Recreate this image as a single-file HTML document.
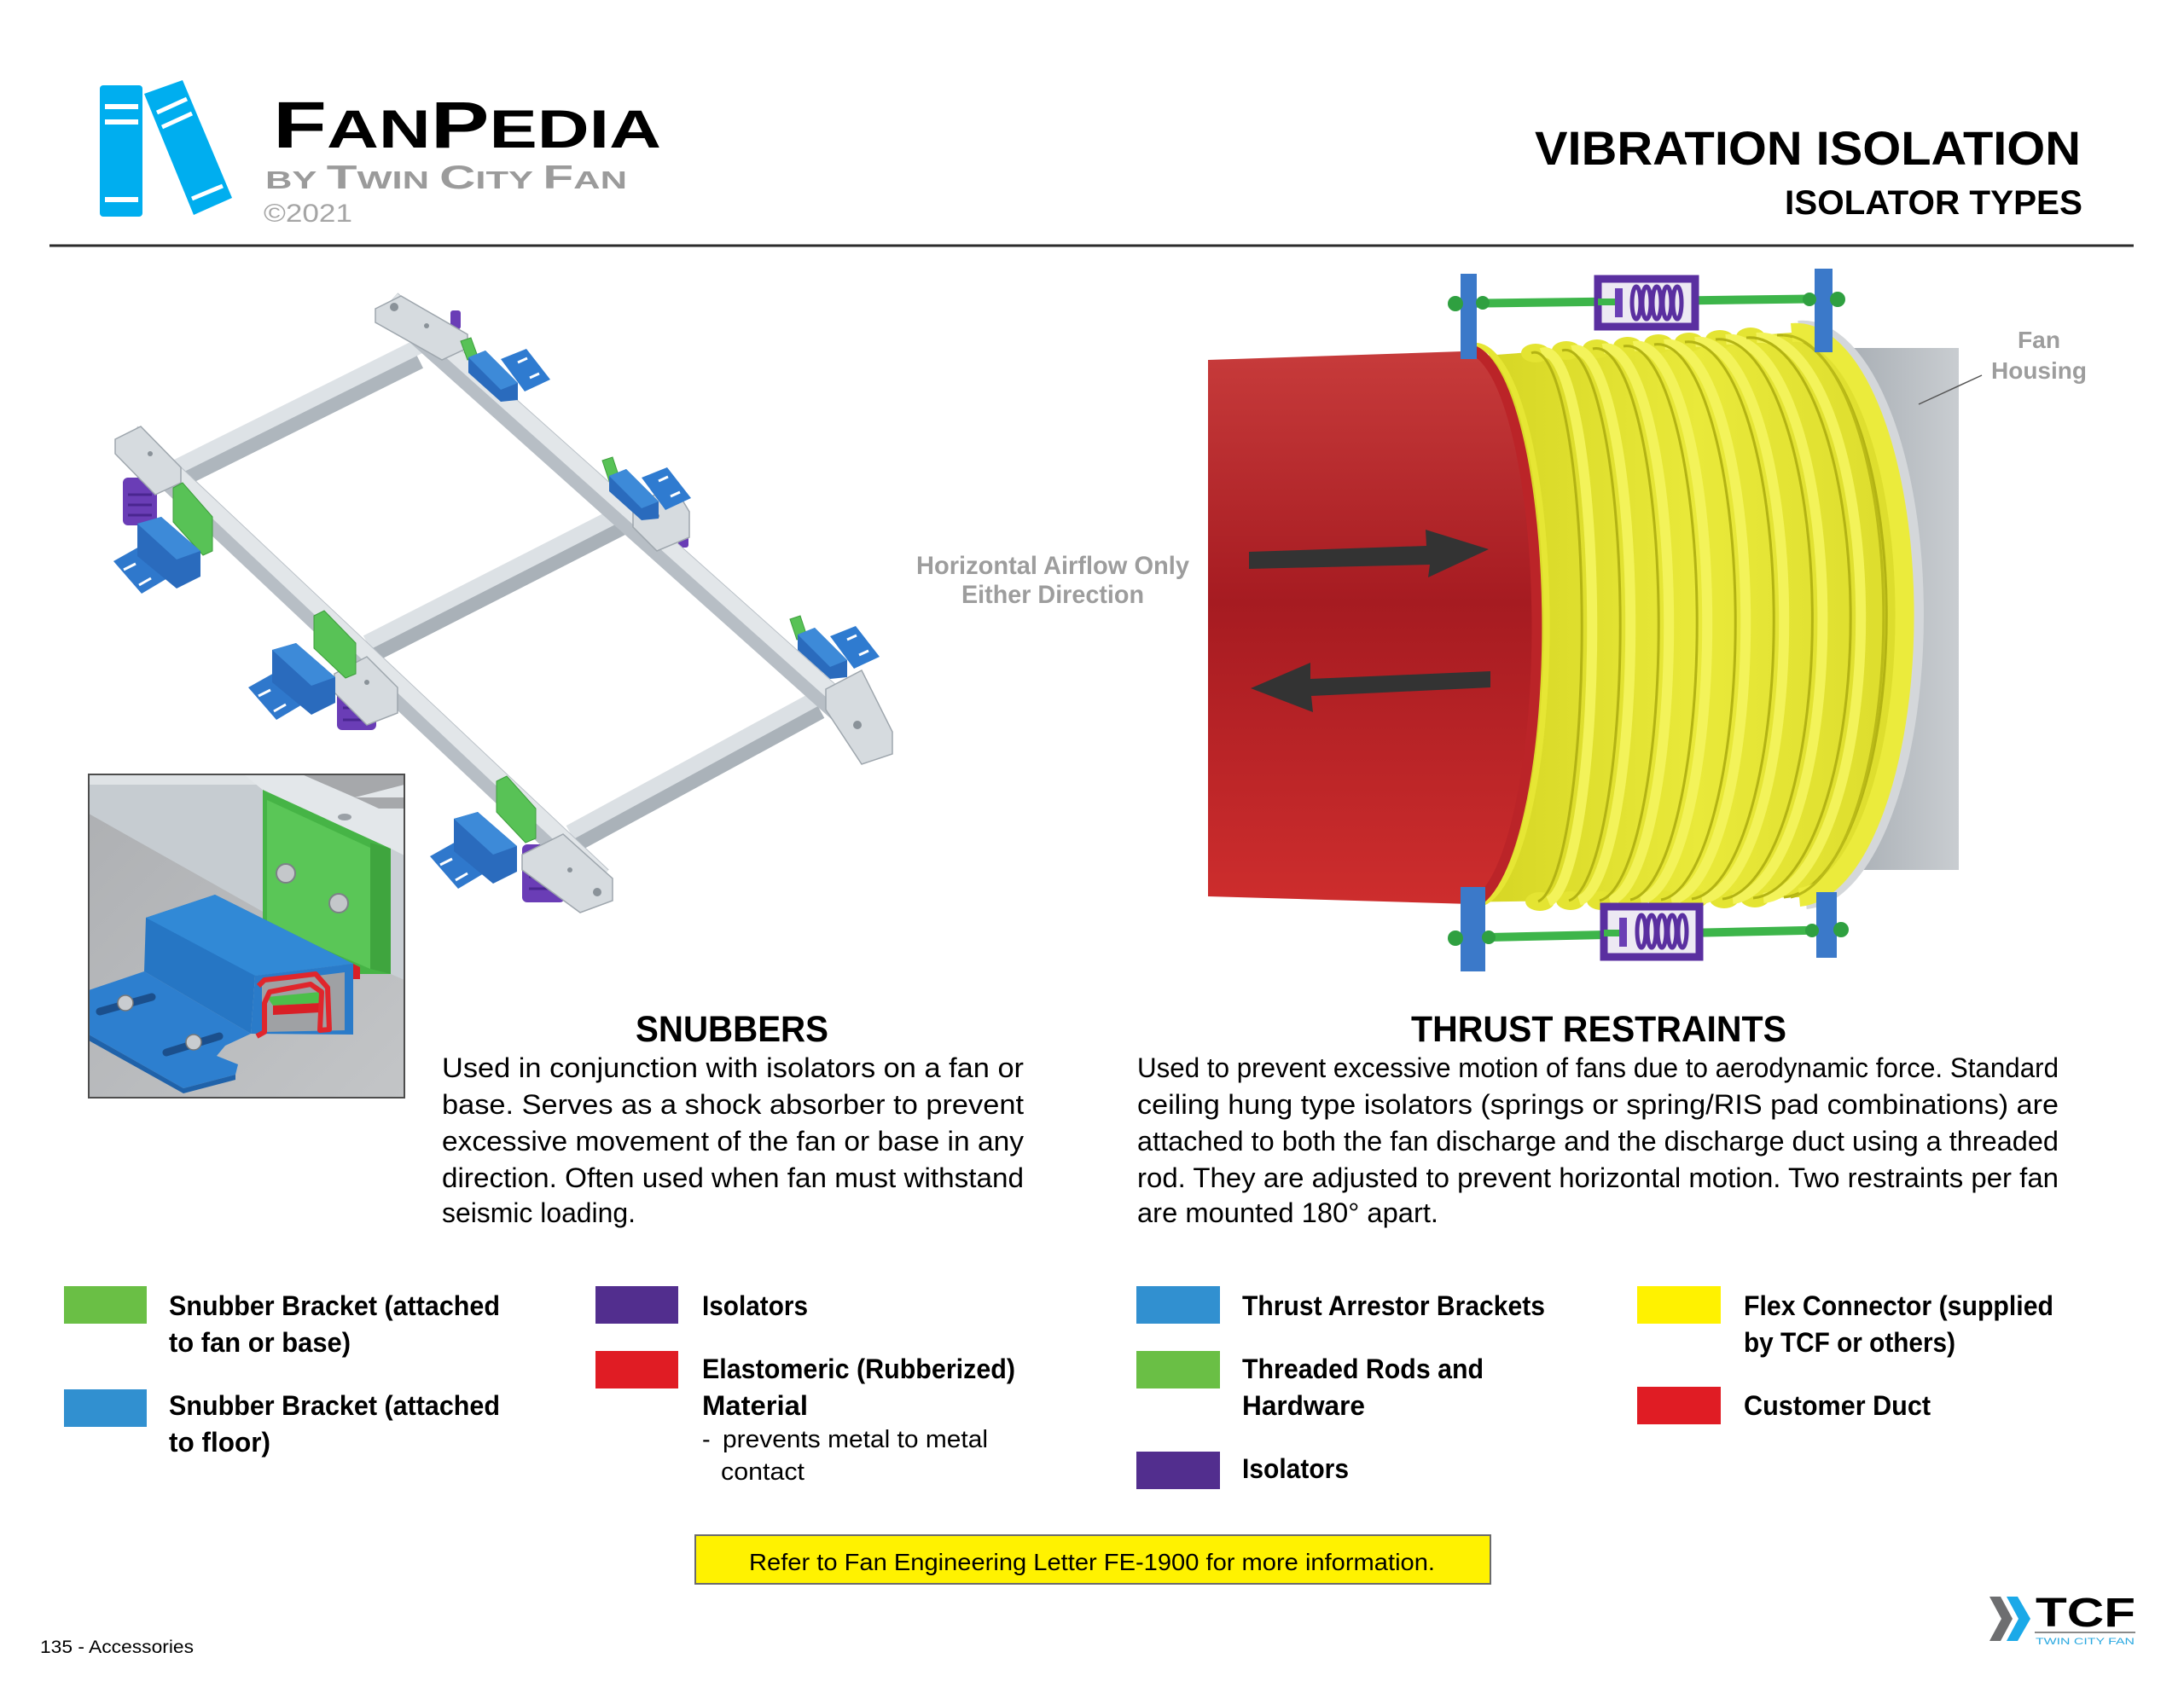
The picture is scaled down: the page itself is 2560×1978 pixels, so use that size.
<!DOCTYPE html>
<html>
<head>
<meta charset="utf-8">
<style>
html,body{margin:0;padding:0;background:#fff;}
svg{display:block;}
text{font-family:"Liberation Sans",sans-serif;}
</style>
</head>
<body>
<svg xmlns="http://www.w3.org/2000/svg" width="2560" height="1978" viewBox="0 0 2560 1978">
<defs>
  <linearGradient id="redG" x1="0" y1="420" x2="0" y2="1056" gradientUnits="userSpaceOnUse">
    <stop offset="0" stop-color="#c63a3a"/>
    <stop offset="0.45" stop-color="#a61b21"/>
    <stop offset="1" stop-color="#cd2d2d"/>
  </linearGradient>
  <linearGradient id="yelG" x1="1740" y1="0" x2="2240" y2="0" gradientUnits="userSpaceOnUse">
    <stop offset="0" stop-color="#d6d624"/>
    <stop offset="0.5" stop-color="#e9e93a"/>
    <stop offset="1" stop-color="#dcdc2c"/>
  </linearGradient>
  <linearGradient id="houseG" x1="2167" y1="0" x2="2296" y2="0" gradientUnits="userSpaceOnUse">
    <stop offset="0" stop-color="#a9afb5"/>
    <stop offset="1" stop-color="#c9cdd1"/>
  </linearGradient>
  <linearGradient id="concG" x1="0" y1="0" x2="370" y2="379" gradientUnits="userSpaceOnUse">
    <stop offset="0" stop-color="#adafb2"/>
    <stop offset="1" stop-color="#c3c5c7"/>
  </linearGradient>
  <clipPath id="insetClip"><rect x="0" y="0" width="370" height="379"/></clipPath>
</defs>

<!-- ============ HEADER ============ -->
<rect x="117" y="100" width="50" height="154" rx="4" fill="#00aeef"/>
<rect x="123" y="122" width="39" height="6" fill="#fff"/>
<rect x="123" y="140" width="39" height="6" fill="#fff"/>
<rect x="123" y="231" width="39" height="6" fill="#fff"/>
<polygon points="169,110 214,94 272,232 227,252" fill="#00aeef"/>
<line x1="184" y1="132" x2="219" y2="116" stroke="#fff" stroke-width="5"/>
<line x1="190" y1="149" x2="225" y2="133" stroke="#fff" stroke-width="5"/>
<line x1="225" y1="233" x2="261" y2="218" stroke="#fff" stroke-width="5"/>

<text x="320" y="173" textLength="455" lengthAdjust="spacingAndGlyphs" font-weight="bold" fill="#000"><tspan font-size="77">F</tspan><tspan font-size="63">AN</tspan><tspan font-size="77">P</tspan><tspan font-size="63">EDIA</tspan></text>
<text x="311" y="221" textLength="424" lengthAdjust="spacingAndGlyphs" font-weight="bold" fill="#9b9b9b"><tspan font-size="29">BY </tspan><tspan font-size="39">T</tspan><tspan font-size="29">WIN </tspan><tspan font-size="39">C</tspan><tspan font-size="29">ITY </tspan><tspan font-size="39">F</tspan><tspan font-size="29">AN</tspan></text>
<text x="309" y="260" textLength="104" lengthAdjust="spacingAndGlyphs" font-size="30" fill="#a5a5a5">©2021</text>

<text x="1799" y="193" textLength="640" lengthAdjust="spacingAndGlyphs" font-size="56" font-weight="bold" fill="#000">VIBRATION ISOLATION</text>
<text x="2092" y="251" textLength="349" lengthAdjust="spacingAndGlyphs" font-size="40" font-weight="bold" fill="#000">ISOLATOR TYPES</text>

<line x1="58" y1="288" x2="2501" y2="288" stroke="#2b2b2b" stroke-width="3"/>

<!-- ============ SNUBBER FRAME ============ -->
<line x1="205" y1="566.5" x2="492" y2="423.6" stroke="#aeb6bd" stroke-width="18"/>
<line x1="205" y1="548.5" x2="492" y2="405.6" stroke="#dde2e6" stroke-width="18"/>
<line x1="430" y1="771.4" x2="730" y2="618.4" stroke="#a9b1b8" stroke-width="18"/>
<line x1="430" y1="753.4" x2="730" y2="600.4" stroke="#dce1e5" stroke-width="18"/>
<line x1="668" y1="994" x2="962" y2="834" stroke="#aab2b9" stroke-width="18"/>
<line x1="668" y1="976" x2="962" y2="816" stroke="#dbe0e4" stroke-width="18"/>

<g fill="#6a3db6">
  <rect x="144" y="560" width="40" height="56" rx="6"/>
  <rect x="395" y="794" width="46" height="62" rx="6"/>
  <rect x="612" y="990" width="50" height="68" rx="6"/>
  <rect x="528" y="364" width="12" height="22" rx="3"/>
  <rect x="795" y="620" width="12" height="22" rx="3"/>
  <rect x="1020" y="838" width="12" height="22" rx="3"/>
</g>
<g stroke="#4a2690" stroke-width="3">
  <line x1="150" y1="580" x2="178" y2="580"/><line x1="150" y1="592" x2="178" y2="592"/><line x1="150" y1="604" x2="178" y2="604"/>
  <line x1="402" y1="816" x2="434" y2="816"/><line x1="402" y1="830" x2="434" y2="830"/><line x1="402" y1="844" x2="434" y2="844"/>
  <line x1="620" y1="1014" x2="654" y2="1014"/><line x1="620" y1="1028" x2="654" y2="1028"/><line x1="620" y1="1042" x2="654" y2="1042"/>
</g>

<line x1="150" y1="512" x2="702" y2="1032" stroke="#b7bec5" stroke-width="34"/>
<line x1="155" y1="507" x2="707" y2="1027" stroke="#e2e6e9" stroke-width="18"/>
<line x1="455" y1="356" x2="1030" y2="870" stroke="#b7bec5" stroke-width="34"/>
<line x1="460" y1="351" x2="1035" y2="865" stroke="#e2e6e9" stroke-width="18"/>

<g stroke="#9ea6ad" stroke-width="1.5" fill="#d6dbdf">
  <polygon points="135,515 165,500 212,548 212,566 182,580 135,532"/>
  <polygon points="440,362 470,347 548,392 548,408 518,422 440,378"/>
  <polygon points="392,790 430,770 466,806 466,836 430,850 392,812"/>
  <polygon points="742,592 790,570 808,600 808,630 770,646 742,618"/>
  <polygon points="612,1002 660,978 718,1030 718,1056 680,1070 612,1020"/>
  <polygon points="968,808 1010,786 1046,858 1046,884 1010,896 968,832"/>
</g>
<g fill="#8a9299">
  <circle cx="176" cy="532" r="3"/><circle cx="430" cy="800" r="3"/><circle cx="668" cy="1020" r="3"/>
  <circle cx="500" cy="382" r="3"/><circle cx="770" cy="605" r="3"/><circle cx="1005" cy="850" r="5"/>
  <circle cx="700" cy="1046" r="5"/><circle cx="462" cy="360" r="5"/>
</g>

<g fill="#58c256" stroke="#3c9e3b" stroke-width="1">
  <polygon points="203,572 214,566 249,606 249,646 238,651 203,612"/>
  <polygon points="368,722 380,716 417,754 417,790 405,795 368,760"/>
  <polygon points="582,916 594,910 628,948 628,983 616,988 582,952"/>
  <polygon points="540,400 552,396 560,418 548,422"/>
  <polygon points="706,540 718,536 726,560 714,564"/>
  <polygon points="926,726 938,722 946,746 934,750"/>
</g>

<g transform="translate(133,606)">
  <polygon points="0,52 48,25 80,62 33,90" fill="#2f78cc"/>
  <polygon points="28,8 56,0 102,40 102,70 74,84 28,46" fill="#2a6bbd"/>
  <polygon points="28,8 56,0 102,40 74,50" fill="#3d8ad8"/>
  <line x1="12" y1="62" x2="26" y2="55" stroke="#fff" stroke-width="3"/>
  <line x1="30" y1="80" x2="44" y2="72" stroke="#fff" stroke-width="3"/>
</g>
<g transform="translate(291,754)">
  <polygon points="0,52 48,25 80,62 33,90" fill="#2f78cc"/>
  <polygon points="28,8 56,0 102,40 102,70 74,84 28,46" fill="#2a6bbd"/>
  <polygon points="28,8 56,0 102,40 74,50" fill="#3d8ad8"/>
  <line x1="12" y1="62" x2="26" y2="55" stroke="#fff" stroke-width="3"/>
  <line x1="30" y1="80" x2="44" y2="72" stroke="#fff" stroke-width="3"/>
</g>
<g transform="translate(504,952)">
  <polygon points="0,52 48,25 80,62 33,90" fill="#2f78cc"/>
  <polygon points="28,8 56,0 102,40 102,70 74,84 28,46" fill="#2a6bbd"/>
  <polygon points="28,8 56,0 102,40 74,50" fill="#3d8ad8"/>
  <line x1="12" y1="62" x2="26" y2="55" stroke="#fff" stroke-width="3"/>
  <line x1="30" y1="80" x2="44" y2="72" stroke="#fff" stroke-width="3"/>
</g>
<g transform="translate(547,409)">
  <polygon points="40,12 70,0 98,36 68,50" fill="#2f7bd0"/>
  <polygon points="2,10 22,2 60,40 60,60 40,62 2,28" fill="#2a6bbd"/>
  <polygon points="2,10 22,2 60,40 40,48" fill="#3d8ad8"/>
  <line x1="60" y1="16" x2="71" y2="11" stroke="#fff" stroke-width="3"/>
  <line x1="74" y1="34" x2="85" y2="29" stroke="#fff" stroke-width="3"/>
</g>
<g transform="translate(712,548)">
  <polygon points="40,12 70,0 98,36 68,50" fill="#2f7bd0"/>
  <polygon points="2,10 22,2 60,40 60,60 40,62 2,28" fill="#2a6bbd"/>
  <polygon points="2,10 22,2 60,40 40,48" fill="#3d8ad8"/>
  <line x1="60" y1="16" x2="71" y2="11" stroke="#fff" stroke-width="3"/>
  <line x1="74" y1="34" x2="85" y2="29" stroke="#fff" stroke-width="3"/>
</g>
<g transform="translate(933,734)">
  <polygon points="40,12 70,0 98,36 68,50" fill="#2f7bd0"/>
  <polygon points="2,10 22,2 60,40 60,60 40,62 2,28" fill="#2a6bbd"/>
  <polygon points="2,10 22,2 60,40 40,48" fill="#3d8ad8"/>
  <line x1="60" y1="16" x2="71" y2="11" stroke="#fff" stroke-width="3"/>
  <line x1="74" y1="34" x2="85" y2="29" stroke="#fff" stroke-width="3"/>
</g>

<!-- ============ INSET ============ -->
<g transform="translate(104,908)">
  <g clip-path="url(#insetClip)">
    <rect x="0" y="0" width="370" height="379" fill="url(#concG)"/>
    <polygon points="0,0 182,0 206,20 206,162 0,46" fill="#c6ccd1"/>
    <polygon points="0,0 182,0 206,12 0,12" fill="#dfe3e6"/>
    <polygon points="182,0 370,0 370,96 206,20" fill="#e3e7ea"/>
    <polygon points="250,0 370,0 370,12 312,27" fill="#a6a8ab"/>
    <polygon points="312,27 370,27 370,40 340,40" fill="#a6a8ab"/>
    <ellipse cx="300" cy="50" rx="8" ry="4" fill="#9aa0a6"/>
    <polygon points="354,87 370,95 370,241 354,234" fill="#c9cfd4"/>
    <polygon points="204,18 354,87 354,234 318,234 204,180" fill="#46b446"/>
    <polygon points="209,30 330,86 330,228 209,176" fill="#5ac657"/>
    <polygon points="330,80 354,87 354,234 330,228" fill="#3fa53e"/>
    <circle cx="231" cy="116" r="11" fill="#c4c7ca" stroke="#7c8186" stroke-width="2"/>
    <circle cx="293" cy="151" r="11" fill="#c4c7ca" stroke="#7c8186" stroke-width="2"/>
    <polygon points="0,253 65,231 190,304 160,318 150,330 175,340 172,352 111,368 0,305" fill="#2d7fcf"/>
    <polygon points="0,305 111,368 172,352 172,358 111,374 0,312" fill="#1f62aa"/>
    <line x1="13" y1="278" x2="74" y2="261" stroke="#1b4f8c" stroke-width="9" stroke-linecap="round"/>
    <line x1="91" y1="326" x2="153" y2="307" stroke="#1b4f8c" stroke-width="9" stroke-linecap="round"/>
    <circle cx="43" cy="268" r="9" fill="#c9ccd0" stroke="#777" stroke-width="1.5"/>
    <circle cx="123" cy="314" r="9" fill="#c9ccd0" stroke="#777" stroke-width="1.5"/>
    <polygon points="67,168 148,141 310,222 195,236 190,304 65,231" fill="#2676c4"/>
    <polygon points="67,168 148,141 310,222 195,236" fill="#3189d6"/>
    <polygon points="195,236 310,222 310,305 190,304" fill="#2a7bc9"/>
    <polygon points="203,244 300,232 300,300 203,302" fill="#9fa1a4"/>
    <polygon points="209,261 271,255 271,268 216,271" fill="#4cbf4a"/>
    <polygon points="216,271 271,268 271,279 216,282" fill="#d81f26"/>
    <polyline points="197,307 206,302 206,268 212,255 260,246 273,255 271,300 282,299 280,250 266,234 233,238 206,241 199,248" fill="none" stroke="#e0262c" stroke-width="6" stroke-linejoin="round"/>
    <polygon points="310,222 318,226 318,240 310,240" fill="#d81f26"/>
  </g>
  <rect x="0" y="0" width="370" height="379" fill="none" stroke="#4d4d4d" stroke-width="2"/>
</g>

<!-- ============ THRUST RESTRAINT DRAWING ============ -->
<rect x="2167" y="408" width="129" height="612" fill="url(#houseG)"/>
<line x1="2249" y1="474" x2="2323" y2="440" stroke="#555" stroke-width="1.5"/>
<text x="2365" y="408" textLength="50" lengthAdjust="spacingAndGlyphs" font-size="28" font-weight="bold" fill="#9d9d9d">Fan</text>
<text x="2334" y="444" textLength="112" lengthAdjust="spacingAndGlyphs" font-size="28" font-weight="bold" fill="#9d9d9d">Housing</text>

<path d="M2108,384 A134 336 0 0 1 2117,1058" fill="none" stroke="#d4d7da" stroke-width="16"/>
<path d="M1700,420 L2100,390 A128 331 0 0 1 2109,1052 L1700,1058 Z" fill="url(#yelG)"/>
<g fill="#e4e432">
  <ellipse cx="1800" cy="414" rx="17" ry="11"/><ellipse cx="1836" cy="411" rx="17" ry="11"/>
  <ellipse cx="1872" cy="409" rx="17" ry="11"/><ellipse cx="1908" cy="406" rx="17" ry="11"/>
  <ellipse cx="1944" cy="403" rx="17" ry="11"/><ellipse cx="1980" cy="401" rx="17" ry="11"/>
  <ellipse cx="2016" cy="398" rx="17" ry="11"/><ellipse cx="2052" cy="395" rx="17" ry="11"/>
  <ellipse cx="1805" cy="1057" rx="17" ry="11"/><ellipse cx="1841" cy="1056" rx="17" ry="11"/>
  <ellipse cx="1877" cy="1056" rx="17" ry="11"/><ellipse cx="1913" cy="1055" rx="17" ry="11"/>
  <ellipse cx="1949" cy="1055" rx="17" ry="11"/><ellipse cx="1985" cy="1054" rx="17" ry="11"/>
  <ellipse cx="2021" cy="1054" rx="17" ry="11"/><ellipse cx="2057" cy="1053" rx="17" ry="11"/>
</g>
<g fill="none">
  <g stroke="#f3f35a" stroke-width="12">
    <path d="M1807,414 A55 321 0 0 1 1815,1057"/>
    <path d="M1843,411 A64 322 0 0 1 1851,1056"/>
    <path d="M1879,409 A73 323 0 0 1 1887,1056"/>
    <path d="M1915,406 A82 324 0 0 1 1923,1055"/>
    <path d="M1951,404 A91 325 0 0 1 1959,1055"/>
    <path d="M1987,401 A100 326 0 0 1 1995,1054"/>
    <path d="M2023,398 A109 327 0 0 1 2031,1054"/>
    <path d="M2059,396 A118 328 0 0 1 2067,1053"/>
  </g>
  <g stroke="#b3b314" stroke-width="3">
    <path d="M1795,414 A55 321 0 0 1 1803,1057"/>
    <path d="M1831,411 A64 322 0 0 1 1839,1056"/>
    <path d="M1867,409 A73 323 0 0 1 1875,1056"/>
    <path d="M1903,406 A82 324 0 0 1 1911,1055"/>
    <path d="M1939,404 A91 325 0 0 1 1947,1055"/>
    <path d="M1975,401 A100 326 0 0 1 1983,1054"/>
    <path d="M2011,398 A109 327 0 0 1 2019,1054"/>
    <path d="M2047,396 A118 328 0 0 1 2055,1053"/>
    <path d="M2083,393 A124 329 0 0 1 2091,1052"/>
  </g>
</g>
<path d="M2100,390 A128 331 0 0 1 2109,1052" fill="none" stroke="#ebeb3c" stroke-width="22"/>
<path d="M2090,393 A118 330 0 0 1 2099,1052" fill="none" stroke="#baba18" stroke-width="3"/>
<path d="M1416,422 L1714,412 A82 324 0 0 1 1724,1060 L1416,1051 Z" fill="url(#redG)"/>
<path d="M1724,406 A84 327 0 0 1 1734,1060" fill="none" stroke="#e6e634" stroke-width="7"/>
<path d="M1714,410 A82 324 0 0 1 1724,1060" fill="none" stroke="#bb2428" stroke-width="12"/>
<polygon points="1464,647 1672,640 1671,621 1745,644 1674,677 1676,662 1464,667" fill="#333"/>
<polygon points="1747,787 1536,796 1536,777 1466,807 1539,835 1537,816 1747,806" fill="#333"/>

<text x="1074" y="673" textLength="320" lengthAdjust="spacingAndGlyphs" font-size="30" font-weight="bold" fill="#9d9d9d">Horizontal Airflow Only</text>
<text x="1127" y="707" textLength="214" lengthAdjust="spacingAndGlyphs" font-size="30" font-weight="bold" fill="#9d9d9d">Either Direction</text>

<line x1="1700" y1="356" x2="2160" y2="350" stroke="#3db54a" stroke-width="10"/>
<rect x="1712" y="321" width="19" height="100" fill="#3b79c9"/>
<rect x="2127" y="315" width="21" height="98" fill="#3b79c9"/>
<g fill="#2fa040">
  <circle cx="1706" cy="356" r="9"/><circle cx="1738" cy="355" r="8"/>
  <circle cx="2121" cy="351" r="8"/><circle cx="2154" cy="351" r="9"/>
</g>
<rect x="1873" y="327" width="114" height="56" fill="#ede9f3" stroke="#5a2fa0" stroke-width="9"/>
<line x1="1873" y1="354" x2="1900" y2="354" stroke="#3db54a" stroke-width="8"/>
<rect x="1893" y="338" width="9" height="34" fill="#6a3fb5"/>
<g fill="none" stroke="#5a2fa0" stroke-width="5">
  <ellipse cx="1918" cy="355" rx="5" ry="19"/><ellipse cx="1930" cy="355" rx="5" ry="19"/>
  <ellipse cx="1942" cy="355" rx="5" ry="19"/><ellipse cx="1954" cy="355" rx="5" ry="19"/>
  <ellipse cx="1966" cy="355" rx="5" ry="19"/>
</g>

<line x1="1700" y1="1100" x2="2160" y2="1090" stroke="#3db54a" stroke-width="10"/>
<rect x="1712" y="1040" width="29" height="99" fill="#3b79c9"/>
<rect x="2129" y="1046" width="24" height="77" fill="#3b79c9"/>
<g fill="#2fa040">
  <circle cx="1706" cy="1100" r="9"/><circle cx="1745" cy="1099" r="8"/>
  <circle cx="2124" cy="1091" r="8"/><circle cx="2158" cy="1090" r="9"/>
</g>
<rect x="1880" y="1063" width="112" height="59" fill="#ede9f3" stroke="#5a2fa0" stroke-width="9"/>
<line x1="1880" y1="1094" x2="1906" y2="1094" stroke="#3db54a" stroke-width="8"/>
<rect x="1898" y="1076" width="9" height="34" fill="#6a3fb5"/>
<g fill="none" stroke="#5a2fa0" stroke-width="5">
  <ellipse cx="1924" cy="1092" rx="5" ry="19"/><ellipse cx="1936" cy="1092" rx="5" ry="19"/>
  <ellipse cx="1948" cy="1092" rx="5" ry="19"/><ellipse cx="1960" cy="1092" rx="5" ry="19"/>
  <ellipse cx="1972" cy="1092" rx="5" ry="19"/>
</g>

<!-- ============ SECTION TEXT ============ -->
<text x="745" y="1221" textLength="226" lengthAdjust="spacingAndGlyphs" font-size="43" font-weight="bold" fill="#000">SNUBBERS</text>
<g font-size="32" fill="#000">
  <text x="518" y="1263" textLength="682" lengthAdjust="spacingAndGlyphs">Used in conjunction with isolators on a fan or</text>
  <text x="518" y="1306" textLength="682" lengthAdjust="spacingAndGlyphs">base. Serves as a shock absorber to prevent</text>
  <text x="518" y="1349" textLength="682" lengthAdjust="spacingAndGlyphs">excessive movement of the fan or base in any</text>
  <text x="518" y="1392" textLength="682" lengthAdjust="spacingAndGlyphs">direction. Often used when fan must withstand</text>
  <text x="518" y="1433" textLength="227" lengthAdjust="spacingAndGlyphs">seismic loading.</text>
</g>

<text x="1654" y="1221" textLength="440" lengthAdjust="spacingAndGlyphs" font-size="43" font-weight="bold" fill="#000">THRUST RESTRAINTS</text>
<g font-size="32" fill="#000">
  <text x="1333" y="1263" textLength="1080" lengthAdjust="spacingAndGlyphs">Used to prevent excessive motion of fans due to aerodynamic force. Standard</text>
  <text x="1333" y="1306" textLength="1080" lengthAdjust="spacingAndGlyphs">ceiling hung type isolators (springs or spring/RIS pad combinations) are</text>
  <text x="1333" y="1349" textLength="1080" lengthAdjust="spacingAndGlyphs">attached to both the fan discharge and the discharge duct using a threaded</text>
  <text x="1333" y="1392" textLength="1080" lengthAdjust="spacingAndGlyphs">rod. They are adjusted to prevent horizontal motion. Two restraints per fan</text>
  <text x="1333" y="1433" textLength="353" lengthAdjust="spacingAndGlyphs">are mounted 180° apart.</text>
</g>

<!-- ============ LEGEND ============ -->
<rect x="75" y="1508" width="97" height="44" fill="#6abf45"/>
<rect x="75" y="1629" width="97" height="44" fill="#3190d0"/>
<rect x="698" y="1508" width="97" height="44" fill="#522e8e"/>
<rect x="698" y="1584" width="97" height="44" fill="#e01c24"/>
<rect x="1332" y="1508" width="98" height="44" fill="#3190d0"/>
<rect x="1332" y="1584" width="98" height="44" fill="#6abf45"/>
<rect x="1332" y="1702" width="98" height="44" fill="#522e8e"/>
<rect x="1919" y="1508" width="98" height="44" fill="#fff200"/>
<rect x="1919" y="1626" width="98" height="44" fill="#e01c24"/>

<g font-size="32" font-weight="bold" fill="#000">
  <text x="198" y="1542" textLength="388" lengthAdjust="spacingAndGlyphs">Snubber Bracket (attached</text>
  <text x="198" y="1585" textLength="213" lengthAdjust="spacingAndGlyphs">to fan or base)</text>
  <text x="198" y="1659" textLength="388" lengthAdjust="spacingAndGlyphs">Snubber Bracket (attached</text>
  <text x="198" y="1702" textLength="119" lengthAdjust="spacingAndGlyphs">to floor)</text>
  <text x="823" y="1542" textLength="124" lengthAdjust="spacingAndGlyphs">Isolators</text>
  <text x="823" y="1616" textLength="367" lengthAdjust="spacingAndGlyphs">Elastomeric (Rubberized)</text>
  <text x="823" y="1659" textLength="124" lengthAdjust="spacingAndGlyphs">Material</text>
  <text x="1456" y="1542" textLength="355" lengthAdjust="spacingAndGlyphs">Thrust Arrestor Brackets</text>
  <text x="1456" y="1616" textLength="283" lengthAdjust="spacingAndGlyphs">Threaded Rods and</text>
  <text x="1456" y="1659" textLength="144" lengthAdjust="spacingAndGlyphs">Hardware</text>
  <text x="1456" y="1733" textLength="125" lengthAdjust="spacingAndGlyphs">Isolators</text>
  <text x="2044" y="1542" textLength="363" lengthAdjust="spacingAndGlyphs">Flex Connector (supplied</text>
  <text x="2044" y="1585" textLength="248" lengthAdjust="spacingAndGlyphs">by TCF or others)</text>
  <text x="2044" y="1659" textLength="219" lengthAdjust="spacingAndGlyphs">Customer Duct</text>
</g>
<g font-size="29" fill="#000">
  <text x="823" y="1697">-</text>
  <text x="847" y="1697" textLength="311" lengthAdjust="spacingAndGlyphs">prevents metal to metal</text>
  <text x="845" y="1735" textLength="98" lengthAdjust="spacingAndGlyphs">contact</text>
</g>

<!-- ============ INFO BOX ============ -->
<rect x="815" y="1800" width="932" height="57" fill="#fff200" stroke="#6b6b6b" stroke-width="2"/>
<text x="878" y="1841" textLength="804" lengthAdjust="spacingAndGlyphs" font-size="28" fill="#000">Refer to Fan Engineering Letter FE-1900 for more information.</text>

<!-- ============ FOOTER ============ -->
<text x="47" y="1938" textLength="180" lengthAdjust="spacingAndGlyphs" font-size="21" fill="#000">135 - Accessories</text>

<polygon points="2332,1872 2345,1872 2359,1898 2345,1924 2332,1924 2346,1898" fill="#6d6e70"/>
<polygon points="2352,1872 2365,1872 2380,1898 2365,1924 2352,1924 2366,1898" fill="#1ba9e8"/>
<text x="2386" y="1907" textLength="117" lengthAdjust="spacingAndGlyphs" font-size="48" font-weight="bold" fill="#000">TCF</text>
<line x1="2385" y1="1914" x2="2503" y2="1914" stroke="#8a8a8a" stroke-width="2"/>
<text x="2386" y="1928" textLength="116" lengthAdjust="spacingAndGlyphs" font-size="11" fill="#29a8e0">TWIN CITY FAN</text>
</svg>
</body>
</html>
